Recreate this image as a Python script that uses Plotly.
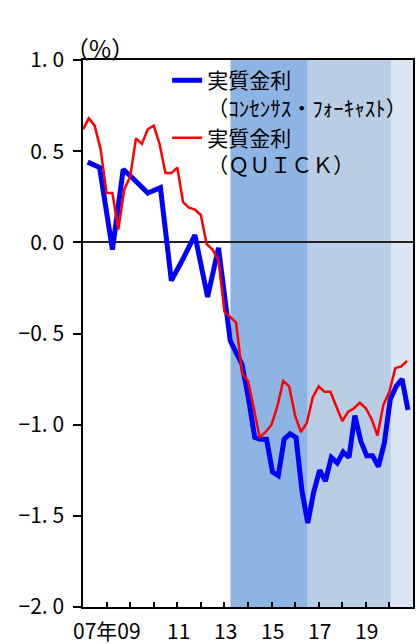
import plotly.graph_objects as go
import pandas as pd

# ---- data ----
blue_dates = ["2007-03-15", "2007-09-15", "2008-04-01", "2008-09-15", "2009-02-15",
              "2009-10-01", "2010-04-15", "2010-10-01", "2011-04-01", "2011-10-01",
              "2012-04-15", "2012-10-01", "2013-04-01", "2013-10-01", "2014-01-15",
              "2014-04-15", "2014-07-01", "2014-10-15", "2015-01-15", "2015-04-15",
              "2015-07-15", "2015-10-15", "2016-01-15", "2016-04-15", "2016-07-15",
              "2016-10-15", "2017-01-15", "2017-04-15", "2017-07-15", "2017-10-15",
              "2018-01-15", "2018-04-15", "2018-07-15", "2018-10-15", "2019-01-15",
              "2019-04-15", "2019-07-15", "2019-10-15", "2020-01-15", "2020-04-15",
              "2020-07-15", "2020-10-15"]
blue_values = [0.44, 0.41, -0.04, 0.40, 0.35,
               0.27, 0.30, -0.21, -0.09, 0.04,
               -0.30, -0.03, -0.54, -0.67, -0.87,
               -1.07, -1.08, -1.08, -1.26, -1.28,
               -1.08, -1.05, -1.07, -1.36, -1.54,
               -1.37, -1.25, -1.31, -1.18, -1.21,
               -1.15, -1.18, -0.95, -1.09, -1.17,
               -1.17, -1.23, -1.10, -0.86, -0.79,
               -0.75, -0.92]

red_start = "2007-01-01"
red_values = [0.62, 0.68, 0.64, 0.51, 0.27, 0.27, 0.07, 0.29,
              0.36, 0.57, 0.54, 0.62, 0.64, 0.54, 0.38, 0.38,
              0.41, 0.22, 0.19, 0.18, 0.15, -0.01, -0.04, -0.10,
              -0.38, -0.41, -0.44, -0.72, -0.76, -0.91, -1.07, -1.04,
              -1.00, -0.90, -0.76, -0.79, -0.95, -1.04, -0.99, -0.85,
              -0.79, -0.82, -0.82, -0.90, -0.98, -0.93, -0.91, -0.88,
              -0.91, -0.97, -1.06, -0.89, -0.82, -0.69, -0.68, -0.65]
red_dates = pd.date_range(red_start, periods=len(red_values), freq="QS")

series_names = ["実質金利<br>（ｺﾝｾﾝｻｽ・ﾌｫｰｷｬｽﾄ）",
                "実質金利<br>（ＱＵＩＣＫ）"]

band_starts = ["2013-04-04", "2016-07-15", "2020-01-25"]
band_ends = ["2016-07-15", "2020-01-25", "2021-01-01"]
band_colors = ["#8EB4E3", "#B9CDE5", "#DCE6F2"]

y_tickvals = [1.0, 0.5, 0.0, -0.5, -1.0, -1.5, -2.0]
y_ticktext = ["1. 0", "0. 5", "0. 0", "−0. 5", "−1. 0", "−1. 5", "−2. 0"]

x_label_dates = ["2009-01-01", "2011-01-01", "2013-01-01", "2015-01-01", "2017-01-01", "2019-01-01"]
x_label_text = ["07年09", "11", "13", "15", "17", "19"]

FONT = "Noto Sans CJK JP"

W, H = 416, 644
ML, MR, MT, MB = 83, 3, 60, 37
PW, PH = W - ML - MR, H - MT - MB

fig = go.Figure()
fig.add_trace(go.Scatter(x=blue_dates, y=blue_values, mode="lines",
                         name=series_names[0],
                         line=dict(color="#0000FF", width=5)))
fig.add_trace(go.Scatter(x=red_dates, y=red_values, mode="lines",
                         name=series_names[1],
                         line=dict(color="#FF0000", width=2.5)))

for s, e, c in zip(band_starts, band_ends, band_colors):
    fig.add_vrect(x0=s, x1=e, fillcolor=c, opacity=1, line_width=0, layer="below")

for d, t in zip(x_label_dates, x_label_text):
    first = t == x_label_text[0]
    fig.add_annotation(x=d, y=0, xref="x", yref="paper", text=t, showarrow=False,
                       xanchor="right" if first else "center",
                       xshift=13 if first else 1,
                       yanchor="middle", yshift=-23,
                       font=dict(family=FONT, size=21, color="black"))

# "(%)" unit label above the y axis
fig.add_annotation(x=(100 - ML) / PW, y=1 + (60 - 48) / PH, xref="paper", yref="paper",
                   text="（%）", showarrow=False, xanchor="center", yanchor="middle",
                   font=dict(family=FONT, size=24, color="black"))

fig.update_layout(
    width=W, height=H,
    margin=dict(l=ML, r=MR, t=MT, b=MB, autoexpand=False),
    paper_bgcolor="white", plot_bgcolor="white",
    font=dict(family=FONT, size=21, color="black"),
    showlegend=True,
    legend=dict(x=0.255, y=1.0, xanchor="left", yanchor="top",
                bgcolor="rgba(0,0,0,0)", borderwidth=0, valign="top",
                font=dict(family=FONT, size=21, color="black"),
                tracegroupgap=0),
    xaxis=dict(type="date", range=["2007-01-01", "2021-01-01"],
               tick0="2007-01-01", dtick="M12", ticks="inside", ticklen=5,
               tickcolor="black", tickwidth=1.5,
               showticklabels=False, showgrid=False, zeroline=False,
               showline=True, linecolor="black", linewidth=1.5, mirror=True),
    yaxis=dict(range=[-2.0, 1.0], tickvals=y_tickvals, ticktext=y_ticktext,
               ticks="outside", ticklen=8, tickcolor="black", tickwidth=1.5,
               ticklabelstandoff=5,
               tickfont=dict(family=FONT, size=21, color="black"),
               showgrid=False, zeroline=True, zerolinecolor="#222222", zerolinewidth=1.5,
               showline=True, linecolor="black", linewidth=1.5, mirror=True),
)

fig.write_html("out.html", config={"displayModeBar": False},
               post_script="document.body.style.margin='0';document.body.style.overflow='hidden';")
